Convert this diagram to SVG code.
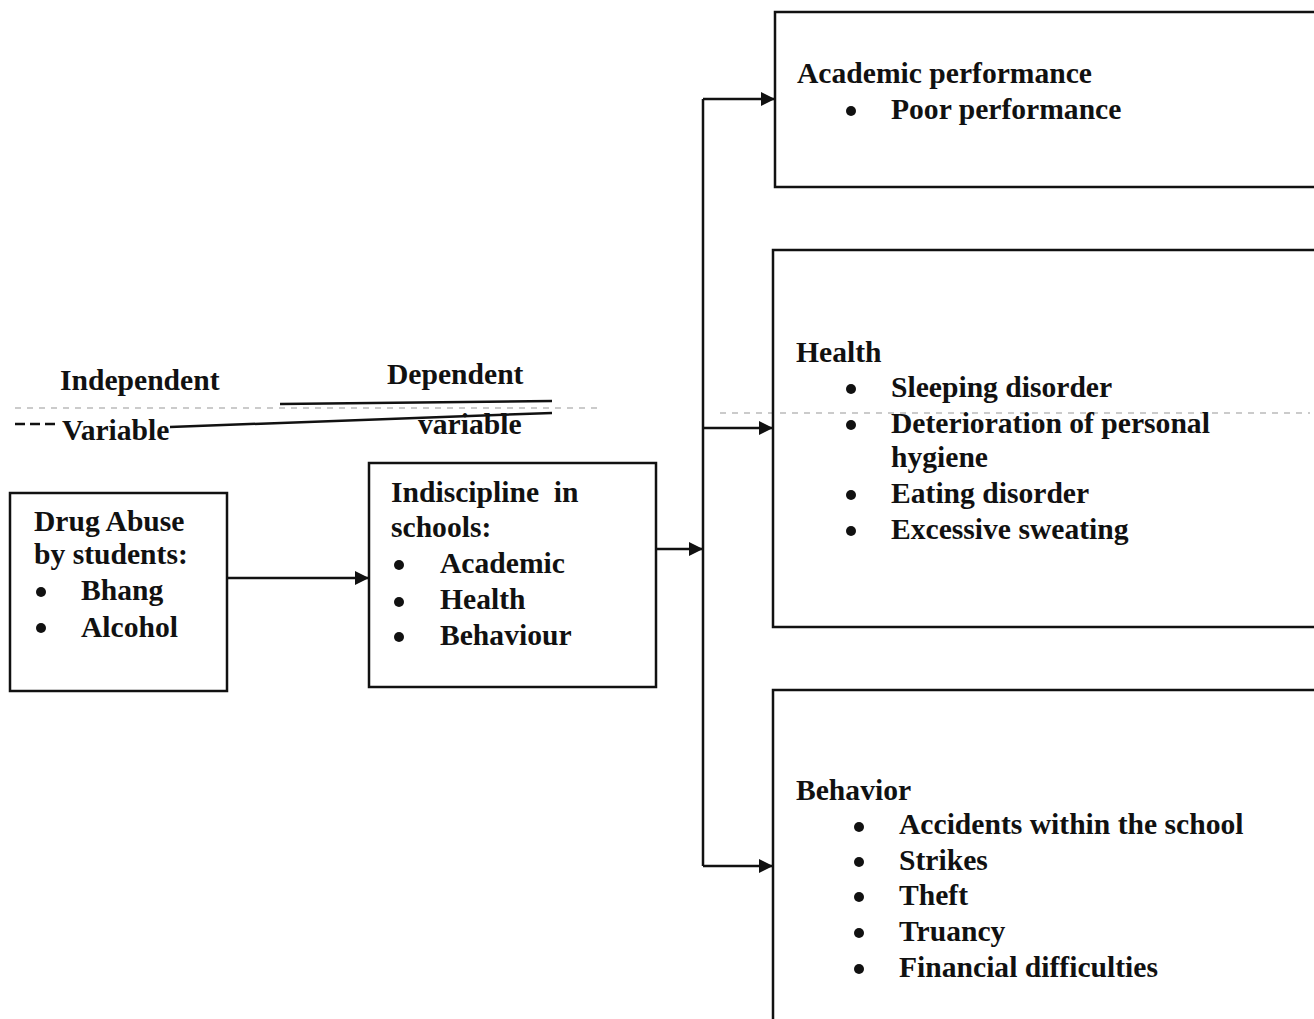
<svg xmlns="http://www.w3.org/2000/svg" width="1314" height="1019" viewBox="0 0 1314 1019">
<style>
text{font-family:"Liberation Serif","Times New Roman",serif;font-weight:bold;font-size:29.6px;fill:#111}
.box{fill:none;stroke:#111;stroke-width:2.5}
.ln{fill:none;stroke:#111;stroke-width:2.5}
.faint{stroke:#bbb;stroke-width:1.5;stroke-dasharray:6 6;fill:none}
</style>
<defs>
<marker id="ah2" viewBox="0 0 10 10" refX="10" refY="5" markerWidth="16" markerHeight="14" markerUnits="userSpaceOnUse" orient="auto"><path d="M0,0L10,5L0,10z" fill="#111"/></marker>
<circle id="b" r="5" fill="#111"/>
</defs>
<rect width="1314" height="1019" fill="#fff"/>
<g id="scan-lines">
<path class="faint" d="M15,408H600M720,413H1310"/>
<path class="ln" stroke-width="1.5" d="M280,404L552,401"/>
<path class="ln" stroke-width="2" d="M170,427L552,413"/>
<path class="ln" stroke-width="1.2" stroke-dasharray="10 5" d="M15,424H58"/>
</g>
<g id="labels">
<text x="60" y="390">Independent</text>
<text x="387" y="384">Dependent</text>
<text x="62" y="440">Variable</text>
<text x="418" y="434">variable</text>
</g>
<g id="node-drug">
<rect class="box" x="10" y="493" width="217" height="198"/>
<text x="34" y="531">Drug Abuse</text>
<text x="34" y="564">by students:</text>
<use href="#b" x="41" y="592"/><text x="81" y="600">Bhang</text>
<use href="#b" x="41" y="628"/><text x="81" y="637">Alcohol</text>
</g>
<g id="node-indiscipline">
<rect class="box" x="369" y="463" width="287" height="224"/>
<text x="391" y="502" xml:space="preserve">Indiscipline  in</text>
<text x="391" y="537">schools:</text>
<use href="#b" x="399" y="565"/><text x="440" y="573">Academic</text>
<use href="#b" x="399" y="602"/><text x="440" y="609">Health</text>
<use href="#b" x="399" y="637"/><text x="440" y="645">Behaviour</text>
</g>
<g id="node-academic">
<rect class="box" x="775" y="12" width="545" height="175"/>
<text x="797" y="83">Academic performance</text>
<use href="#b" x="851" y="111"/><text x="891" y="119">Poor performance</text>
</g>
<g id="node-health">
<rect class="box" x="773" y="250" width="547" height="377"/>
<text x="796" y="362">Health</text>
<use href="#b" x="851" y="389"/><text x="891" y="397">Sleeping disorder</text>
<use href="#b" x="851" y="425"/><text x="891" y="433">Deterioration of personal</text>
<text x="891" y="467">hygiene</text>
<use href="#b" x="851" y="495"/><text x="891" y="503">Eating disorder</text>
<use href="#b" x="851" y="531"/><text x="891" y="539">Excessive sweating</text>
</g>
<g id="node-behavior">
<rect class="box" x="773" y="690" width="547" height="340"/>
<text x="796" y="800">Behavior</text>
<use href="#b" x="859" y="827"/><text x="899" y="834">Accidents within the school</text>
<use href="#b" x="859" y="862"/><text x="899" y="870">Strikes</text>
<use href="#b" x="859" y="897"/><text x="899" y="905">Theft</text>
<use href="#b" x="859" y="933"/><text x="899" y="941">Truancy</text>
<use href="#b" x="859" y="969"/><text x="899" y="977">Financial difficulties</text>
</g>
<g id="connectors">
<line class="ln" stroke-width="2" x1="227" y1="578" x2="369" y2="578" marker-end="url(#ah2)"/>
<line class="ln" stroke-width="2.5" x1="656" y1="549" x2="703" y2="549" marker-end="url(#ah2)"/>
<path class="ln" d="M703,99V866"/>
<line class="ln" stroke-width="2" x1="703" y1="99" x2="775" y2="99" marker-end="url(#ah2)"/>
<line class="ln" stroke-width="2" x1="703" y1="428" x2="773" y2="428" marker-end="url(#ah2)"/>
<line class="ln" stroke-width="2" x1="703" y1="866" x2="773" y2="866" marker-end="url(#ah2)"/>
</g>
</svg>
